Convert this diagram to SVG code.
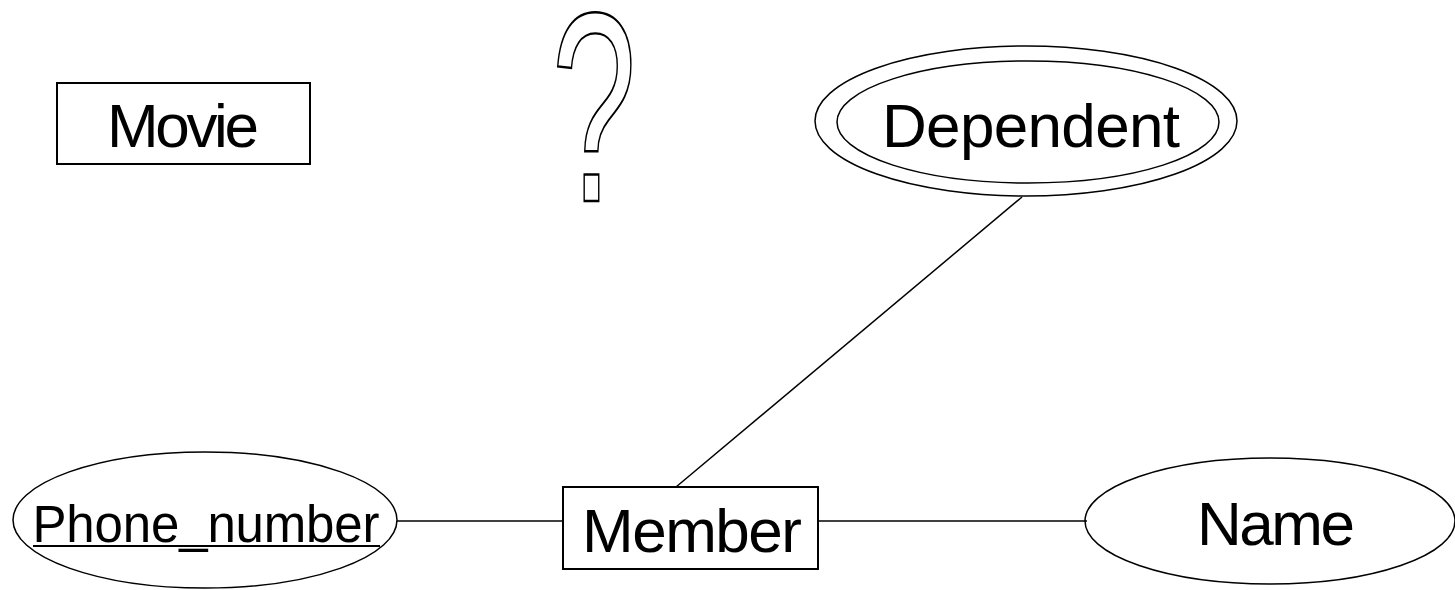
<svg xmlns="http://www.w3.org/2000/svg" width="1455" height="590" viewBox="0 0 1455 590">
<style>
.shape{fill:#fff;stroke:#000;stroke-width:2}
.thin{fill:none;stroke:#000;stroke-width:1.5}
.lbl{font-family:"Liberation Sans",Arial,sans-serif;fill:#000;text-anchor:middle}
.conn{stroke:#000;stroke-width:1.5;fill:none}
</style>
<rect width="1455" height="590" fill="#fff"/>
<g id="connectors">
<line class="conn" x1="1022" y1="197" x2="676" y2="487"/>
<line class="conn" x1="397" y1="521" x2="563" y2="521"/>
<line class="conn" x1="818" y1="521" x2="1087" y2="521"/>
</g>
<g id="movie">
<rect class="shape" x="57" y="83" width="253" height="81"/>
<text class="lbl" x="183" y="147" font-size="62" textLength="152">Movie</text>
</g>
<g id="question">
<text transform="translate(594,201) scale(0.6,1.06)" font-family="Liberation Sans,Arial,sans-serif" font-size="255" text-anchor="middle" fill="#fff" stroke="#000" stroke-width="2" vector-effect="non-scaling-stroke">?</text>
</g>
<g id="dependent">
<ellipse class="thin" cx="1026" cy="121" rx="211" ry="75"/>
<ellipse class="thin" cx="1028" cy="122" rx="191" ry="61"/>
<text class="lbl" x="1031" y="147" font-size="62" textLength="298">Dependent</text>
</g>
<g id="phone_number">
<ellipse class="thin" cx="205" cy="520" rx="192" ry="68"/>
<text class="lbl" x="206" y="542" font-size="51" textLength="347">Phone_number</text>
<line x1="33" y1="546" x2="380" y2="546" stroke="#000" stroke-width="2"/>
</g>
<g id="member">
<rect class="shape" x="563" y="487" width="255" height="82"/>
<text class="lbl" x="692" y="552" font-size="62" textLength="220">Member</text>
</g>
<g id="name">
<ellipse class="thin" cx="1270" cy="521" rx="185" ry="63"/>
<text class="lbl" x="1276" y="545" font-size="62" textLength="158">Name</text>
</g>
</svg>
